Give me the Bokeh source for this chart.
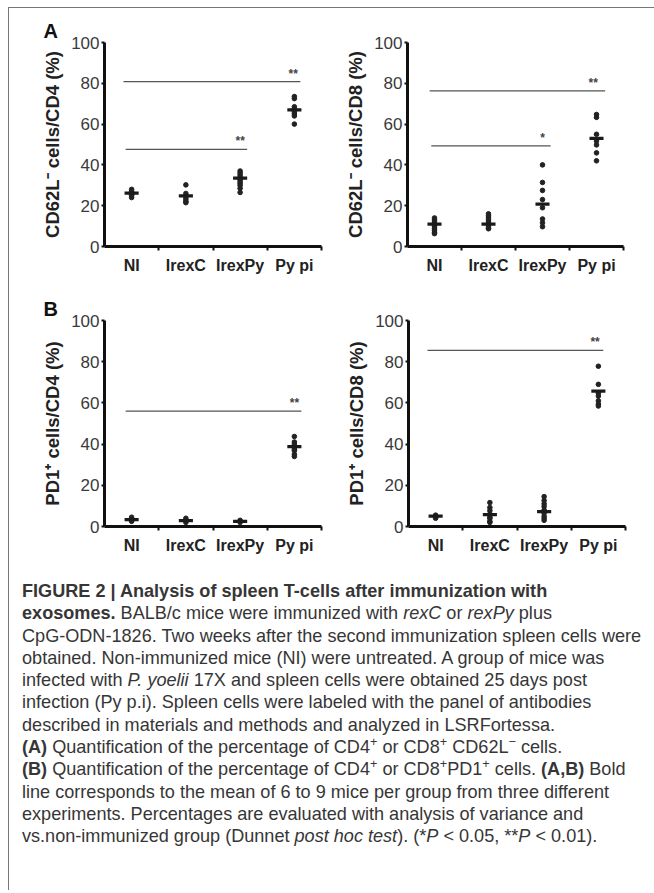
from bokeh.plotting import figure
from bokeh.layouts import column, row
from bokeh.models import Range1d, FixedTicker, Div
from bokeh.embed import file_html
from bokeh.resources import INLINE
from bokeh.core.properties import value

groups = ["NI", "IrexC", "IrexPy", "Py pi"]
y_ticks = [0, 20, 40, 60, 80, 100]

# Panel A, CD4: CD62L- cells/CD4 (%)
a_cd4_dots = [
    [24, 25, 25.5, 26, 26.5, 27, 28],
    [30.2, 26, 25, 24, 23, 22, 21.5],
    [37, 36, 35, 34, 33, 32, 31, 30, 28.5, 26.5],
    [73.5, 72.5, 68.5, 67.5, 66, 65, 64, 60],
]
a_cd4_means = [26.2, 24.8, 33.5, 67]
a_cd4_sig = [(0.85, 4.11, 80.8, 3.98, "**"), (0.89, 3.13, 47.6, 3.0, "**")]

# Panel A, CD8: CD62L- cells/CD8 (%)
a_cd8_dots = [
    [14, 13, 12, 11, 10, 9, 8, 7, 6.3],
    [16, 15, 14, 13, 12, 11, 10, 9, 8.7],
    [40, 31.4, 27.5, 23, 19, 13.5, 11.6, 9.7],
    [64.7, 63.3, 55, 51.7, 49.8, 45.9, 42],
]
a_cd8_means = [11, 11, 20.8, 53]
a_cd8_sig = [(0.91, 4.16, 76.3, 3.94, "**"), (0.94, 3.15, 49.3, 3.0, "*")]

# Panel B, CD4: PD1+ cells/CD4 (%)
b_cd4_dots = [
    [4.5, 3.5, 3, 2.5],
    [4, 3, 2],
    [3, 2.5, 2],
    [43.7, 41, 40, 38.5, 37.5, 36.8, 35, 34],
]
b_cd4_means = [3.3, 2.9, 2.5, 38.8]
b_cd4_sig = [(0.89, 4.13, 56, 4.0, "**")]

# Panel B, CD8: PD1+ cells/CD8 (%)
b_cd8_dots = [
    [5.5, 5, 4.5, 4],
    [11.6, 9.2, 7.7, 6, 4.5, 3.9, 2.5, 2],
    [14.5, 12.6, 11, 9.7, 8, 6.5, 5, 4, 3],
    [77.8, 69, 64.7, 63.3, 61, 59.4, 58.5],
]
b_cd8_means = [5, 5.8, 7.2, 65.7]
b_cd8_sig = [(0.85, 4.09, 85.5, 3.94, "**")]

FONT = "Liberation Sans"


def panel(dots, means, sigs, ylabel, letter, w, h, bl, br, bt, bb):
    p = figure(width=w, height=h, output_backend="svg", toolbar_location=None,
               x_range=Range1d(0.5, 4.5), y_range=Range1d(0, 100),
               min_border_left=bl, min_border_right=br,
               min_border_top=bt, min_border_bottom=bb)
    p.outline_line_color = None
    p.grid.visible = False
    p.background_fill_color = "white"
    p.border_fill_color = "white"

    xs, ys = [], []
    for i, g in enumerate(dots):
        for v in g:
            xs.append(i + 1)
            ys.append(v)
    p.scatter(xs, ys, marker="circle", size=4.6, color="#222222")

    gx = [i + 1 for i in range(len(means))]
    p.segment(x0=[x - 0.13 for x in gx], x1=[x + 0.13 for x in gx],
              y0=means, y1=means, line_width=3.2, line_color="#1a1a1a")

    for (x0, x1, yv, sx, st) in sigs:
        p.segment(x0=[x0], x1=[x1], y0=[yv], y1=[yv], line_width=1.3, line_color="#555555")
        p.text(x=[sx], y=[yv], text=[st], text_align="center", text_baseline="bottom",
               y_offset=-1, text_font=value(FONT), text_font_size="12px",
               text_font_style="bold", text_color="#444444")

    xa = p.xaxis[0]
    xa.ticker = FixedTicker(ticks=[1, 2, 3, 4], minor_ticks=[1.5, 2.5, 3.5, 4.5])
    xa.major_label_overrides = {1: groups[0], 2: groups[1], 3: groups[2], 4: groups[3]}
    xa.major_tick_out = 0
    xa.major_tick_in = 0
    xa.minor_tick_out = 4
    xa.minor_tick_in = 0
    xa.minor_tick_line_width = 2
    xa.minor_tick_line_color = "#111111"
    xa.axis_line_width = 3
    xa.axis_line_color = "#111111"
    xa.major_label_standoff = 6
    xa.major_label_text_font = FONT
    xa.major_label_text_font_size = "16px"
    xa.major_label_text_font_style = "bold"
    xa.major_label_text_color = "#222222"

    ya = p.yaxis[0]
    ya.ticker = FixedTicker(ticks=y_ticks)
    ya.minor_tick_out = 0
    ya.minor_tick_in = 0
    ya.major_tick_out = 3
    ya.major_tick_in = 0
    ya.major_tick_line_width = 2
    ya.major_tick_line_color = "#111111"
    ya.axis_line_width = 3
    ya.axis_line_color = "#111111"
    ya.major_label_standoff = 2
    ya.major_label_text_font = FONT
    ya.major_label_text_font_size = "17px"
    ya.major_label_text_color = "#3a3a3a"
    ya.axis_label = ylabel
    ya.axis_label_standoff = 5
    ya.axis_label_text_font = FONT
    ya.axis_label_text_font_size = "18.5px"
    ya.axis_label_text_font_style = "bold"
    ya.axis_label_text_color = "#222222"

    if letter:
        p.title.text = letter
        p.title.align = "left"
        p.title.offset = -61
        p.title.standoff = 2
        p.title.text_font = FONT
        p.title.text_font_size = "20px"
        p.title.text_font_style = "bold"
        p.title.text_color = "#111111"
    return p


pa1 = panel(a_cd4_dots, a_cd4_means, a_cd4_sig, "CD62L\u207b cells/CD4 (%)", "A",
            323, 277, 95, 11, 34, 37)
pa2 = panel(a_cd8_dots, a_cd8_means, a_cd8_sig, "CD62L\u207b cells/CD8 (%)", None,
            315, 277, 75, 24, 30, 39)
pb1 = panel(b_cd4_dots, b_cd4_means, b_cd4_sig, "PD1\u207a cells/CD4 (%)", "B",
            323, 275, 95, 11, 35, 31)
pb2 = panel(b_cd8_dots, b_cd8_means, b_cd8_sig, "PD1\u207a cells/CD8 (%)", None,
            315, 275, 76, 22, 34, 34)

caption_lines = [
    "<b>FIGURE 2 | Analysis of spleen T-cells after immunization with</b>",
    "<b>exosomes.</b> BALB/c mice were immunized with <i>rexC</i> or <i>rexPy</i> plus",
    "CpG-ODN-1826. Two weeks after the second immunization spleen cells were",
    "obtained. Non-immunized mice (NI) were untreated. A group of mice was",
    "infected with <i>P. yoelii</i> 17X and spleen cells were obtained 25 days post",
    "infection (Py p.i). Spleen cells were labeled with the panel of antibodies",
    "described in materials and methods and analyzed in LSRFortessa.",
    "<b>(A)</b> Quantification of the percentage of CD4<sup>+</sup> or CD8<sup>+</sup> CD62L<sup>\u2212</sup> cells.",
    "<b>(B)</b> Quantification of the percentage of CD4<sup>+</sup> or CD8<sup>+</sup>PD1<sup>+</sup> cells. <b>(A,B)</b> Bold",
    "line corresponds to the mean of 6 to 9 mice per group from three different",
    "experiments. Percentages are evaluated with analysis of variance and",
    "vs.non-immunized group (Dunnet <i>post hoc test</i>). (*<i>P</i> &lt; 0.05, **<i>P</i> &lt; 0.01).",
]
caption_html = (
    "<div style=\"font-family:'Liberation Sans',Arial,sans-serif;font-size:18.1px;"
    "line-height:22.3px;color:#363636;white-space:nowrap;padding-left:8px;padding-top:15px;\">"
    + "<br>".join(caption_lines).replace("<sup>", "<sup style='line-height:0;font-size:70%'>")
    + "</div>"
)
cap = Div(text=caption_html, width=638, height=320)

layout = column(row(pa1, pa2), row(pb1, pb2), cap, margin=(7, 0, 0, 8),
                styles={"border-left": "1.5px solid #777777", "border-top": "1.5px solid #777777"})

open("out.html", "w").write(file_html(layout, INLINE))
